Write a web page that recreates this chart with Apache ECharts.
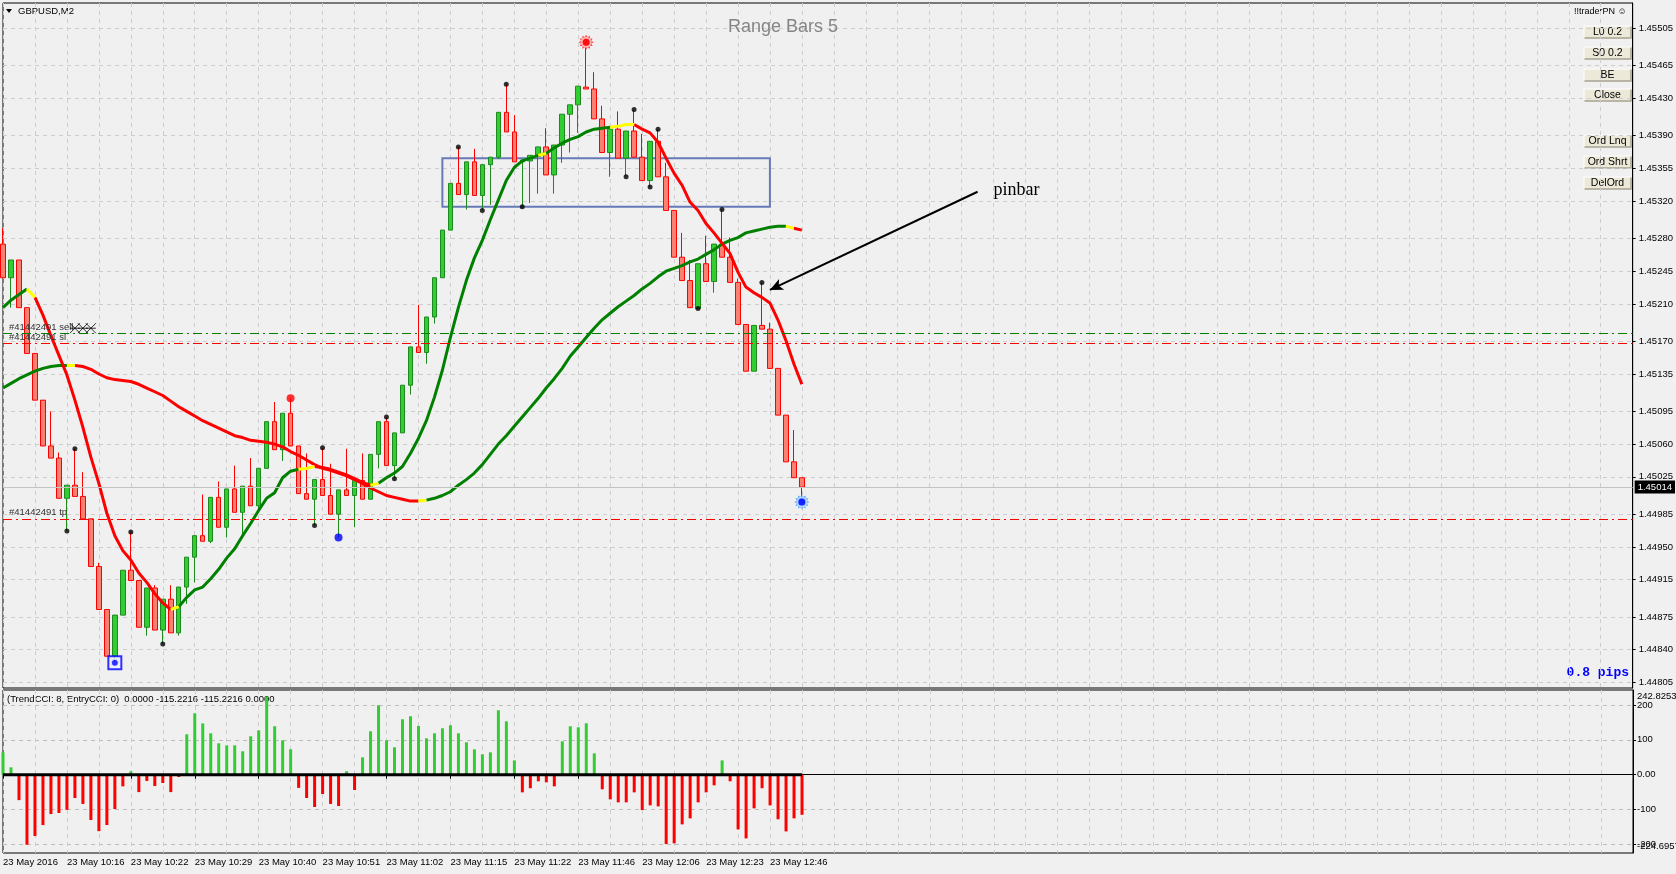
<!DOCTYPE html>
<html>
<head>
<meta charset="utf-8">
<title>GBPUSD,M2 - Range Bars 5</title>
<script src="https://cdn.jsdelivr.net/npm/echarts@6.0.0/dist/echarts.min.js"></script>
<style>
  html, body { margin: 0; padding: 0; background: #f0f0f0; }
  #chart { width: 1676px; height: 874px; }
</style>
</head>
<body>
<div id="chart"></div>
<script>
// time labels under the chart, one every 8 range bars
const timeLabels = ['23 May 2016', '23 May 10:16', '23 May 10:22', '23 May 10:29', '23 May 10:40',
  '23 May 10:51', '23 May 11:02', '23 May 11:15', '23 May 11:22', '23 May 11:46',
  '23 May 12:06', '23 May 12:23', '23 May 12:46'];

// range bars (5 pips)
const opens = [1.45274, 1.45238, 1.45257, 1.45206, 1.45157, 1.45107, 1.45058, 1.45045, 1.45002, 1.45016,
  1.45004, 1.44980, 1.44929, 1.44883, 1.44833, 1.44877, 1.44925, 1.44914, 1.44864, 1.44906,
  1.44861, 1.44894, 1.44858, 1.44907, 1.44939, 1.44962, 1.44956, 1.45003, 1.44971, 1.45012,
  1.44987, 1.45015, 1.44994, 1.45034, 1.45084, 1.45054, 1.45093, 1.45058, 1.45007, 1.45001,
  1.45022, 1.45005, 1.44985, 1.45011, 1.45005, 1.45021, 1.45001, 1.45049, 1.45084, 1.45037,
  1.45072, 1.45123, 1.45164, 1.45158, 1.45196, 1.45238, 1.45289, 1.45339, 1.45327, 1.45362,
  1.45326, 1.45359, 1.45367, 1.45415, 1.45394, 1.45362, 1.45363, 1.45368, 1.45378, 1.45348,
  1.45380, 1.45413, 1.45423, 1.45442, 1.45440, 1.45408, 1.45372, 1.45397, 1.45366, 1.45395,
  1.45367, 1.45342, 1.45384, 1.45346, 1.45310, 1.45260, 1.45235, 1.45205, 1.45253, 1.45234,
  1.45274, 1.45260, 1.45233, 1.45188, 1.45138, 1.45187, 1.45183, 1.45141, 1.45091, 1.45041,
  1.45024];
const highs = [1.45291, 1.45257, 1.45257, 1.45206, 1.45157, 1.45107, 1.45095, 1.45051, 1.45016, 1.45055,
  1.45030, 1.44980, 1.44933, 1.44883, 1.44877, 1.44925, 1.44966, 1.44914, 1.44906, 1.44909,
  1.44894, 1.44909, 1.44907, 1.44939, 1.44962, 1.45006, 1.45003, 1.45020, 1.45012, 1.45037,
  1.45015, 1.45045, 1.45034, 1.45084, 1.45105, 1.45093, 1.45109, 1.45058, 1.45050, 1.45022,
  1.45056, 1.45039, 1.45011, 1.45055, 1.45021, 1.45050, 1.45049, 1.45084, 1.45089, 1.45072,
  1.45123, 1.45164, 1.45209, 1.45196, 1.45238, 1.45289, 1.45339, 1.45378, 1.45362, 1.45376,
  1.45359, 1.45367, 1.45415, 1.45445, 1.45412, 1.45364, 1.45369, 1.45378, 1.45398, 1.45380,
  1.45413, 1.45423, 1.45443, 1.45490, 1.45458, 1.45422, 1.45397, 1.45416, 1.45395, 1.45418,
  1.45392, 1.45384, 1.45397, 1.45361, 1.45310, 1.45286, 1.45257, 1.45253, 1.45283, 1.45274,
  1.45311, 1.45281, 1.45237, 1.45188, 1.45187, 1.45233, 1.45190, 1.45141, 1.45091, 1.45075,
  1.45024];
const lows = [1.45238, 1.45206, 1.45206, 1.45157, 1.45107, 1.45058, 1.45045, 1.45002, 1.44967, 1.45004,
  1.44980, 1.44929, 1.44883, 1.44833, 1.44826, 1.44877, 1.44914, 1.44864, 1.44855, 1.44861,
  1.44846, 1.44858, 1.44855, 1.44889, 1.44912, 1.44956, 1.44954, 1.44971, 1.44960, 1.44987,
  1.44964, 1.44994, 1.44990, 1.45034, 1.45054, 1.45042, 1.45058, 1.45007, 1.45001, 1.44973,
  1.45005, 1.44985, 1.44960, 1.45005, 1.44971, 1.45001, 1.45001, 1.45034, 1.45037, 1.45023,
  1.45072, 1.45113, 1.45158, 1.45146, 1.45189, 1.45238, 1.45289, 1.45327, 1.45311, 1.45326,
  1.45310, 1.45316, 1.45365, 1.45394, 1.45362, 1.45314, 1.45318, 1.45328, 1.45348, 1.45328,
  1.45361, 1.45372, 1.45393, 1.45440, 1.45408, 1.45372, 1.45346, 1.45366, 1.45346, 1.45367,
  1.45342, 1.45335, 1.45346, 1.45310, 1.45260, 1.45235, 1.45206, 1.45205, 1.45234, 1.45222,
  1.45260, 1.45233, 1.45188, 1.45138, 1.45138, 1.45183, 1.45141, 1.45091, 1.45041, 1.45024,
  1.44998];
const closes = [1.45238, 1.45257, 1.45206, 1.45157, 1.45107, 1.45058, 1.45045, 1.45002, 1.45016, 1.45004,
  1.44980, 1.44929, 1.44883, 1.44833, 1.44877, 1.44925, 1.44914, 1.44864, 1.44906, 1.44861,
  1.44894, 1.44858, 1.44907, 1.44939, 1.44962, 1.44956, 1.45003, 1.44971, 1.45012, 1.44987,
  1.45015, 1.44994, 1.45034, 1.45084, 1.45054, 1.45093, 1.45058, 1.45007, 1.45001, 1.45022,
  1.45005, 1.44985, 1.45011, 1.45005, 1.45021, 1.45001, 1.45049, 1.45084, 1.45037, 1.45072,
  1.45123, 1.45164, 1.45158, 1.45196, 1.45238, 1.45289, 1.45339, 1.45327, 1.45362, 1.45326,
  1.45359, 1.45367, 1.45415, 1.45394, 1.45362, 1.45364, 1.45369, 1.45378, 1.45348, 1.45380,
  1.45413, 1.45423, 1.45443, 1.45440, 1.45408, 1.45372, 1.45397, 1.45366, 1.45395, 1.45367,
  1.45342, 1.45384, 1.45346, 1.45310, 1.45260, 1.45235, 1.45206, 1.45253, 1.45234, 1.45274,
  1.45260, 1.45233, 1.45188, 1.45138, 1.45187, 1.45183, 1.45141, 1.45091, 1.45041, 1.45024,
  1.45014];

// fast and slow trend lines, and where they change colour (g / y / r)
const fastLine = [1.45206, 1.45214, 1.45220, 1.45226, 1.45217, 1.45198, 1.45176, 1.45155, 1.45134, 1.45107,
  1.45078, 1.45046, 1.45018, 1.44986, 1.44962, 1.44946, 1.44936, 1.44922, 1.44912, 1.44900,
  1.44890, 1.44883, 1.44886, 1.44896, 1.44904, 1.44907, 1.44916, 1.44926, 1.44938, 1.44948,
  1.44962, 1.44975, 1.44989, 1.45002, 1.45008, 1.45024, 1.45031, 1.45033, 1.45034, 1.45036,
  1.45035, 1.45033, 1.45030, 1.45027, 1.45023, 1.45019, 1.45016, 1.45018, 1.45024, 1.45029,
  1.45036, 1.45050, 1.45066, 1.45085, 1.45110, 1.45139, 1.45174, 1.45206, 1.45235, 1.45259,
  1.45278, 1.45300, 1.45321, 1.45342, 1.45356, 1.45363, 1.45366, 1.45369, 1.45371, 1.45377,
  1.45382, 1.45386, 1.45389, 1.45394, 1.45397, 1.45398, 1.45399, 1.45400, 1.45402, 1.45402,
  1.45397, 1.45393, 1.45383, 1.45366, 1.45350, 1.45337, 1.45319, 1.45310, 1.45296, 1.45286,
  1.45275, 1.45264, 1.45244, 1.45228, 1.45222, 1.45217, 1.45211, 1.45193, 1.45171, 1.45146,
  1.45124];
const slowLine = [1.45120, 1.45125, 1.45130, 1.45134, 1.45138, 1.45141, 1.45143, 1.45144, 1.45144, 1.45144,
  1.45143, 1.45140, 1.45135, 1.45131, 1.45129, 1.45128, 1.45127, 1.45124, 1.45120, 1.45116,
  1.45112, 1.45106, 1.45100, 1.45095, 1.45090, 1.45085, 1.45081, 1.45077, 1.45073, 1.45069,
  1.45067, 1.45064, 1.45063, 1.45062, 1.45060, 1.45057, 1.45052, 1.45048, 1.45043, 1.45038,
  1.45034, 1.45032, 1.45029, 1.45026, 1.45022, 1.45018, 1.45013, 1.45009, 1.45005, 1.45003,
  1.45001, 1.44999, 1.44999, 1.45000, 1.45002, 1.45005, 1.45009, 1.45016, 1.45022, 1.45029,
  1.45038, 1.45049, 1.45060, 1.45069, 1.45079, 1.45089, 1.45099, 1.45109, 1.45120, 1.45130,
  1.45141, 1.45154, 1.45164, 1.45174, 1.45184, 1.45193, 1.45200, 1.45207, 1.45213, 1.45219,
  1.45226, 1.45232, 1.45239, 1.45245, 1.45248, 1.45251, 1.45255, 1.45258, 1.45263, 1.45268,
  1.45274, 1.45278, 1.45281, 1.45286, 1.45288, 1.45290, 1.45292, 1.45293, 1.45293, 1.45291,
  1.45289];
const fastRuns = [[0, 'g'], [3, 'y'], [4, 'r'], [21, 'y'], [22, 'g'], [37, 'y'], [39, 'r'], [46, 'y'],
  [47, 'g'], [67, 'y'], [68, 'g'], [76, 'y'], [79, 'r']];
const slowRuns = [[0, 'g'], [8, 'y'], [9, 'r'], [52, 'y'], [53, 'g'], [98, 'y'], [99, 'r']];

// TrendCCI histogram
const cciValues = [64, 21, -73, -201, -176, -144.5, -113, -110, -101, -67,
  -84, -130, -162, -144.5, -98.6, -33.5, 9.6, -50, -18, -32.5,
  -24, -50, -6.7, 115.8, 176, 147, 118.7, 90, 84, 84,
  67, 110, 127, 224, 138.8, 98.6, 72.7, -38, -67, -92.8,
  -55.5, -84, -90, 9.6, -44, 49.8, 124.4, 199, 98.6, 78.5,
  158.9, 167.5, 139.7, 104.3, 118.7, 133, 141.6, 118.7, 92.8, 72.7,
  58.4, 64, 184.7, 153, 41, -50.7, -39, -19, -22, -33.5,
  95.7, 138.8, 136, 147.4, 61, -42, -70.8, -79.4, -79.4, -50.7,
  -101.4, -88, -91, -199, -197, -142.6, -125.4, -79.4, -50.7, -30.6,
  41, -19, -157, -182.8, -96.7, -39, -88, -128, -162.7, -125.4,
  -115.2216];

// axis tick values
const priceTicks = [1.44805, 1.44840, 1.44875, 1.44915, 1.44950, 1.44985, 1.45025, 1.45060, 1.45095, 1.45135,
  1.45170, 1.45210, 1.45245, 1.45280, 1.45320, 1.45355, 1.45390, 1.45430, 1.45465, 1.45505];
const cciTicks = [-200, -100, 0, 100, 200];
const cciMin = -224.6957, cciMax = 242.8253;

// fractal dots and signal marks (bar indexes)
const fractalUp = [9, 16, 40, 48, 57, 63, 79, 82, 90, 95];
const fractalDown = [8, 20, 39, 49, 60, 65, 78, 81, 87];
const redDotBar = 36, blueDotBar = 42, boxMarkBar = 14, redSunBar = 73, blueSunBar = 100;

// order levels
const sellLevel = 1.45179, stopLevel = 1.45168, takeLevel = 1.44980;
const closeMarkBars = [9, 10, 11], closeMarkPrice = 1.45184;

// consolidation box and pinbar note
const boxBars = [55, 96], boxPrices = [1.45366, 1.45314];
const arrowFrom = [122, 1.45330], arrowTo = [96, 1.45225], noteAt = [124, 1.45332];

const SLOTS = 205;
const cats = Array.from({ length: SLOTS }, (_, i) => String(i));
function timeAt(i) { return i % 8 === 0 && i / 8 < timeLabels.length ? timeLabels[i / 8] : ''; }

function colourAt(runs, i) {
  let c = runs[0][1];
  for (const r of runs) if (i >= r[0]) c = r[1];
  return c;
}
function pick(values, runs, col) {
  return values.map((v, i) => (colourAt(runs, i) === col || (i > 0 && colourAt(runs, i - 1) === col)) ? v : null);
}
const lineColours = { g: '#008000', r: '#ff0000', y: '#ffff00' };
function trendSeries(values, runs) {
  return ['g', 'r', 'y'].map(c => ({
    type: 'line', xAxisIndex: 0, yAxisIndex: 0, data: pick(values, runs, c),
    showSymbol: false, symbol: 'none', z: 3, silent: true,
    lineStyle: { color: lineColours[c], width: 3 }
  }));
}

function sunPath(n, r1, r2) {
  let d = '';
  for (let i = 0; i < 2 * n; i++) {
    const r = i % 2 ? r2 : r1, a = Math.PI * i / n;
    d += (i ? 'L' : 'M') + (50 + r * Math.cos(a)).toFixed(1) + ',' + (50 + r * Math.sin(a)).toFixed(1);
  }
  return 'path://' + d + 'Z';
}
const SUN = sunPath(12, 50, 36);

const candles = opens.map((o, i) => [o, closes[i], lows[i], highs[i]]);
const lastClose = closes[closes.length - 1];
const dash = [4, 4];
const grey = '#cdcdcd';
const orderLabel = { show: true, position: 'insideStartTop', distance: [6, 1], color: '#333', fontSize: 9.5 };

const chart = echarts.init(document.getElementById('chart'));

const buttonNames = ['L0 0.2', 'S0 0.2', 'BE', 'Close', 'Ord Lnq', 'Ord Shrt', 'DelOrd'];
const buttonTops = [26, 47, 69, 89, 135, 156, 177];
const buttons = buttonNames.map((name, i) => ({
  type: 'group', x: 1584, y: buttonTops[i],
  children: [
    { type: 'rect', shape: { x: 0, y: 0, width: 47, height: 12 }, style: { fill: '#ece9d8' } },
    { type: 'polyline', shape: { points: [[0, 12], [0, 0], [47, 0]] }, style: { stroke: '#ffffff', lineWidth: 1, fill: null } },
    { type: 'polyline', shape: { points: [[0.5, 12], [47, 12], [47, 0.5]] }, style: { stroke: '#a6a391', lineWidth: 1.5, fill: null } },
    { type: 'text', x: 23.5, y: 6.5, style: { text: name, fill: '#000', font: '10.5px "Liberation Sans"', align: 'center', verticalAlign: 'middle' } }
  ]
}));

const option = {
  animation: false,
  backgroundColor: '#f0f0f0',
  textStyle: { fontFamily: 'Liberation Sans' },
  title: {
    text: 'Range Bars 5', left: 728, top: 18, padding: 0,
    textStyle: { color: '#858585', fontSize: 18, fontWeight: 'normal', fontFamily: 'Liberation Sans' }
  },
  graphic: [
    { type: 'polygon', shape: { points: [[6, 9], [12, 9], [9, 13]] }, style: { fill: '#000' } },
    { type: 'text', x: 18, y: 11.5, style: { text: 'GBPUSD,M2', fill: '#000', font: '9.5px "Liberation Sans"', verticalAlign: 'middle' } },
    { type: 'text', x: 1574, y: 12, style: { text: '!!traderPN \u263A', fill: '#000', font: '9px "Liberation Sans"', verticalAlign: 'middle' } },
    { type: 'text', x: 1629, y: 673, style: { text: '0.8 pips', fill: '#0000ff', font: 'bold 13px "Liberation Mono"', align: 'right', verticalAlign: 'middle' } },
    { type: 'text', x: 7, y: 699, style: { text: '(TrendCCI: 8, EntryCCI: 0)  0.0000 -115.2216 -115.2216 0.0000', fill: '#000', font: '9.5px "Liberation Sans"', verticalAlign: 'middle' } },
    // CCI window range, printed the way the terminal does it
    { type: 'text', x: 1637, y: 696, style: { text: String(cciMax), fill: '#000', font: '9.5px "Liberation Sans"', verticalAlign: 'middle' } },
    { type: 'text', x: 1637, y: 846, style: { text: String(cciMin), fill: '#000', font: '9.5px "Liberation Sans"', verticalAlign: 'middle' } }
  ].concat(buttons),
  grid: [
    { left: 3, right: 43, top: 3, height: 685, show: true, borderColor: '#000', borderWidth: 1 },
    { left: 3, right: 43, top: 690, height: 163, show: true, borderColor: '#000', borderWidth: 1 }
  ],
  xAxis: [
    {
      type: 'category', gridIndex: 0, data: cats, boundaryGap: false,
      axisLine: { show: false }, axisTick: { show: false }, axisLabel: { show: false },
      splitLine: { show: true, interval: 3, lineStyle: { color: grey, type: dash } }
    },
    {
      type: 'category', gridIndex: 1, data: cats, boundaryGap: false,
      axisLine: { show: true, lineStyle: { color: '#000' } },
      axisTick: { show: true, interval: i => timeAt(i) !== '', length: 4, lineStyle: { color: '#000' } },
      axisLabel: {
        show: true, interval: i => timeAt(i) !== '', formatter: (v, i) => timeAt(i),
        align: 'left', margin: 4, fontSize: 9.5, color: '#000'
      },
      splitLine: { show: true, interval: 3, lineStyle: { color: grey, type: dash } }
    }
  ],
  yAxis: [
    {
      type: 'value', gridIndex: 0, position: 'right', min: 1.44799, max: 1.45532,
      axisLine: { show: true, lineStyle: { color: '#000' } },
      axisTick: { show: true, length: 3, customValues: priceTicks, lineStyle: { color: '#000' } },
      axisLabel: { customValues: priceTicks, formatter: v => v.toFixed(5), fontSize: 9.5, color: '#000', margin: 6 },
      splitLine: { show: true, lineStyle: { color: grey, type: dash } }
    },
    {
      type: 'value', gridIndex: 1, position: 'right', min: cciMin, max: cciMax,
      axisLine: { show: true, lineStyle: { color: '#000' } },
      axisTick: { show: true, length: 3, customValues: cciTicks, lineStyle: { color: '#000' } },
      axisLabel: {
        customValues: cciTicks, fontSize: 9.5, color: '#000', margin: 4,
        formatter: v => (v === 0 ? '0.00' : String(v))
      },
      splitLine: { show: true, lineStyle: { color: '#bdbdbd', type: dash } }
    }
  ],
  series: [
    {
      type: 'candlestick', xAxisIndex: 0, yAxisIndex: 0, data: candles, barWidth: 5, z: 2,
      itemStyle: { color: '#32cd32', color0: '#fa8072', borderColor: '#1d8a1d', borderColor0: '#ff0000', borderWidth: 1 },
      markArea: {
        silent: true,
        itemStyle: { color: 'rgba(0,0,0,0)', borderColor: '#6679b8', borderWidth: 2 },
        label: { show: false },
        data: [[{ coord: [boxBars[0], boxPrices[0]] }, { coord: [boxBars[1], boxPrices[1]] }]]
      },
      markLine: {
        silent: true, symbol: 'none', animation: false, precision: 5,
        data: [
          { yAxis: sellLevel, lineStyle: { color: '#008000', type: [9, 4, 2, 4], width: 1 },
            label: Object.assign({ formatter: '#41442491 sell' }, orderLabel) },
          { yAxis: stopLevel, lineStyle: { color: '#ff0000', type: [9, 4, 2, 4], width: 1 },
            label: Object.assign({ formatter: '#41442491 sl' }, orderLabel) },
          { yAxis: takeLevel, lineStyle: { color: '#ff0000', type: [9, 4, 2, 4], width: 1 },
            label: Object.assign({ formatter: '#41442491 tp' }, orderLabel) },
          { yAxis: lastClose, lineStyle: { color: '#c4c4c4', type: 'solid', width: 1 },
            label: { show: true, position: 'end', distance: 2, formatter: p => Number(p.value).toFixed(5),
              backgroundColor: '#000', color: '#fff', fontSize: 9.5, padding: [2, 3, 1, 3] } },
          [
            { coord: arrowFrom, lineStyle: { color: '#000', width: 2, type: 'solid' }, label: { show: false } },
            { coord: arrowTo, symbol: 'arrow', symbolSize: [9, 13] }
          ]
        ]
      },
      markPoint: {
        silent: true,
        data: [{
          coord: noteAt, symbol: 'circle', symbolSize: 1, itemStyle: { color: 'rgba(0,0,0,0)' },
          label: { show: true, position: 'inside', align: 'left', verticalAlign: 'middle', formatter: 'pinbar',
            color: '#000', fontSize: 18, fontFamily: 'Liberation Serif' }
        }]
      }
    },
    ...trendSeries(slowLine, slowRuns),
    ...trendSeries(fastLine, fastRuns),
    {
      type: 'scatter', xAxisIndex: 0, yAxisIndex: 0, z: 5, silent: true, symbolSize: 5,
      itemStyle: { color: '#000' },
      data: fractalUp.map(i => [i, highs[i]]).concat(fractalDown.map(i => [i, lows[i]]))
    },
    {
      type: 'scatter', xAxisIndex: 0, yAxisIndex: 0, z: 5, silent: true, symbolSize: 8,
      data: [
        { value: [redDotBar, highs[redDotBar]], itemStyle: { color: '#ff0000' } },
        { value: [blueDotBar, lows[blueDotBar]], itemStyle: { color: '#0000ff' } }
      ]
    },
    {
      type: 'scatter', xAxisIndex: 0, yAxisIndex: 0, z: 5, silent: true,
      data: [
        { value: [boxMarkBar, lows[boxMarkBar]], symbol: 'rect', symbolSize: 13, itemStyle: { color: '#e8f0ff', borderColor: '#0000ff', borderWidth: 2 } },
        { value: [redSunBar, highs[redSunBar]], symbol: SUN, symbolSize: 15, itemStyle: { color: '#ff2020' } },
        { value: [blueSunBar, lows[blueSunBar]], symbol: SUN, symbolSize: 15, itemStyle: { color: '#3aa0ff' } }
      ]
    },
    {
      type: 'scatter', xAxisIndex: 0, yAxisIndex: 0, z: 6, silent: true,
      data: [
        { value: [boxMarkBar, lows[boxMarkBar]], symbol: 'circle', symbolSize: 7, itemStyle: { color: '#0000ff', borderColor: '#ffffff', borderWidth: 1 } },
        { value: [redSunBar, highs[redSunBar]], symbol: 'circle', symbolSize: 9, itemStyle: { color: '#ff0000', borderColor: '#ffd0d0', borderWidth: 2 } },
        { value: [blueSunBar, lows[blueSunBar]], symbol: 'circle', symbolSize: 9, itemStyle: { color: '#0000ff', borderColor: '#cfe6ff', borderWidth: 2 } }
      ]
    },
    {
      type: 'scatter', xAxisIndex: 0, yAxisIndex: 0, z: 6, silent: true,
      symbol: 'path://M0,0L10,10M10,0L0,10M0,5L10,5', symbolSize: 10,
      itemStyle: { color: 'rgba(0,0,0,0)', borderColor: '#000', borderWidth: 1 },
      data: closeMarkBars.map(i => [i, closeMarkPrice])
    },
    {
      type: 'bar', xAxisIndex: 1, yAxisIndex: 1, barWidth: 3, silent: true,
      data: cciValues.map(v => ({ value: v, itemStyle: { color: v >= 0 ? '#32cd32' : '#ff0000' } }))
    },
    {
      type: 'line', xAxisIndex: 1, yAxisIndex: 1, symbol: 'none', silent: true, z: 4,
      lineStyle: { color: '#000', width: 3 },
      data: cciValues.map(() => 0)
    }
  ]
};

chart.setOption(option);
</script>
</body>
</html>
